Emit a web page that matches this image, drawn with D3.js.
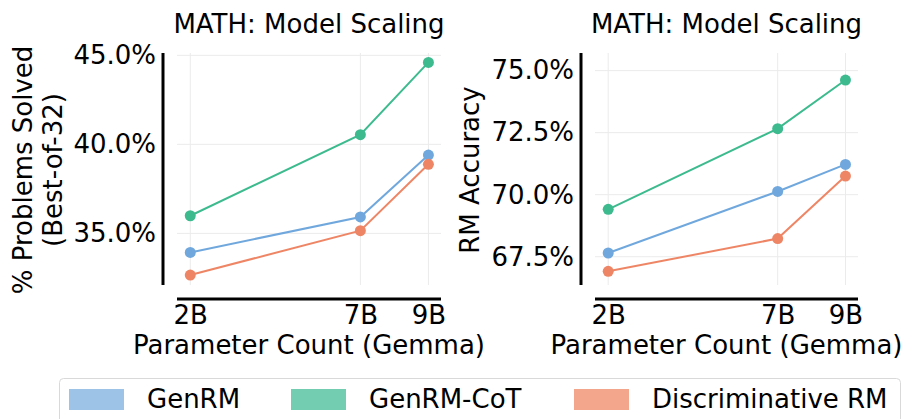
<!DOCTYPE html>
<html>
<head>
<meta charset="utf-8">
<script src="https://cdn.jsdelivr.net/npm/d3@7"></script>
<style>
  html, body { margin: 0; padding: 0; background: #fff; }
  svg { display: block; font-family: "DejaVu Sans", sans-serif; }
</style>
</head>
<body>
<div id="chart"></div>
<script>
// model sizes (billions of params)
const sizes = [2, 7, 9];
const sizeLabels = ['2B', '7B', '9B'];
const seriesNames = ['GenRM', 'GenRM-CoT', 'Discriminative RM'];

// left panel: % problems solved (best-of-32)
const solvedGenRM = [33.93, 35.92, 39.4];
const solvedCoT = [35.99, 40.54, 44.6];
const solvedDisc = [32.66, 35.15, 38.88];
const solvedTicks = [35, 40, 45];

// right panel: RM accuracy
const accGenRM = [67.65, 70.13, 71.22];
const accCoT = [69.41, 72.66, 74.62];
const accDisc = [66.91, 68.23, 70.75];
const accTicks = [67.5, 70, 72.5, 75];

const lineColors = ['#70a8dd', '#3dbb8f', '#ee8666'];
const patchColors = ['#9dc3e6', '#72cdb1', '#f4a68d'];

const W = 906, H = 419;
const svg = d3.select('#chart').append('svg').attr('width', W).attr('height', H);

const panels = [
  { x0: 177, x1: 441, spineX: 163, yDomain: [32.1, 45.13], ticks: solvedTicks,
    series: [solvedGenRM, solvedCoT, solvedDisc], yLabel: ['% Problems Solved', '(Best-of-32)'], yLabelX: 23 },
  { x0: 595, x1: 858, spineX: 581, yDomain: [66.36, 75.71], ticks: accTicks,
    series: [accGenRM, accCoT, accDisc], yLabel: ['RM Accuracy'], yLabelX: 470 }
];

const plotTop = 53, plotBottom = 285, xAxisY = 299;
const fs = 26;

panels.forEach(p => {
  const x = d3.scaleLinear().domain([1.61, 9.37]).range([p.x0, p.x1]);
  const y = d3.scaleLinear().domain(p.yDomain).range([plotBottom, plotTop]);
  const g = svg.append('g');
  const cx = (p.x0 + p.x1) / 2;

  // grid
  g.append('g').selectAll('line').data(p.ticks).join('line')
    .attr('x1', p.x0).attr('x2', p.x1)
    .attr('y1', d => y(d)).attr('y2', d => y(d))
    .attr('stroke', '#ebebeb').attr('stroke-width', 1);
  g.append('g').selectAll('line').data(sizes).join('line')
    .attr('x1', d => x(d)).attr('x2', d => x(d))
    .attr('y1', plotTop).attr('y2', plotBottom)
    .attr('stroke', '#ebebeb').attr('stroke-width', 1);

  // y axis (offset spine)
  const yAxis = d3.axisLeft(y).tickValues(p.ticks).tickSize(0).tickPadding(7)
    .tickFormat(d => d3.format('.1f')(d) + '%');
  const ya = g.append('g').attr('transform', `translate(${p.spineX},0)`).call(yAxis);
  ya.select('.domain').remove();
  ya.selectAll('text').attr('font-size', fs).attr('fill', '#000').attr('font-family', 'DejaVu Sans');
  g.append('line').attr('x1', p.spineX).attr('x2', p.spineX).attr('y1', plotTop).attr('y2', plotBottom)
    .attr('stroke', '#000').attr('stroke-width', 3);

  // x axis (offset spine)
  const xAxis = d3.axisBottom(x).tickValues(sizes).tickSize(0).tickPadding(7)
    .tickFormat((d, i) => sizeLabels[i]);
  const xa = g.append('g').attr('transform', `translate(0,${xAxisY})`).call(xAxis);
  xa.select('.domain').remove();
  xa.selectAll('text').attr('font-size', fs).attr('fill', '#000').attr('font-family', 'DejaVu Sans');
  g.append('line').attr('x1', p.x0).attr('x2', p.x1).attr('y1', xAxisY).attr('y2', xAxisY)
    .attr('stroke', '#000').attr('stroke-width', 3);

  // lines + markers
  const line = d3.line().x((d, i) => x(sizes[i])).y(d => y(d));
  p.series.forEach((vals, si) => {
    g.append('path').datum(vals).attr('d', line)
      .attr('fill', 'none').attr('stroke', lineColors[si]).attr('stroke-width', 2);
    g.append('g').selectAll('circle').data(vals).join('circle')
      .attr('cx', (d, i) => x(sizes[i])).attr('cy', d => y(d)).attr('r', 5.5)
      .attr('fill', lineColors[si]);
  });

  // title
  g.append('text').attr('x', cx).attr('y', 33).attr('text-anchor', 'middle')
    .attr('font-size', fs).text('MATH: Model Scaling');
  // x label
  g.append('text').attr('x', cx).attr('y', 354).attr('text-anchor', 'middle')
    .attr('font-size', fs).text('Parameter Count (Gemma)');
  // y label
  const yl = g.append('text').attr('transform', `translate(${p.yLabelX},170) rotate(-90)`)
    .attr('text-anchor', 'middle').attr('font-size', fs);
  p.yLabel.forEach((t, i) => {
    yl.append('tspan').attr('x', 0).attr('y', i * 30).attr('dy', '0.35em').text(t);
  });
});

// legend
const lg = svg.append('g');
lg.append('rect').attr('x', 59.5).attr('y', 378.5).attr('width', 841).attr('height', 60)
  .attr('rx', 4).attr('fill', '#fff').attr('stroke', '#d9d9d9').attr('stroke-width', 1);
const legendX = [69, 291, 574];
seriesNames.forEach((name, i) => {
  lg.append('rect').attr('x', legendX[i]).attr('y', 389).attr('width', 55).attr('height', 21)
    .attr('fill', patchColors[i]);
  lg.append('text').attr('x', legendX[i] + 78).attr('y', 399).attr('dy', '0.35em')
    .attr('font-size', fs).text(name);
});
</script>
</body>
</html>
